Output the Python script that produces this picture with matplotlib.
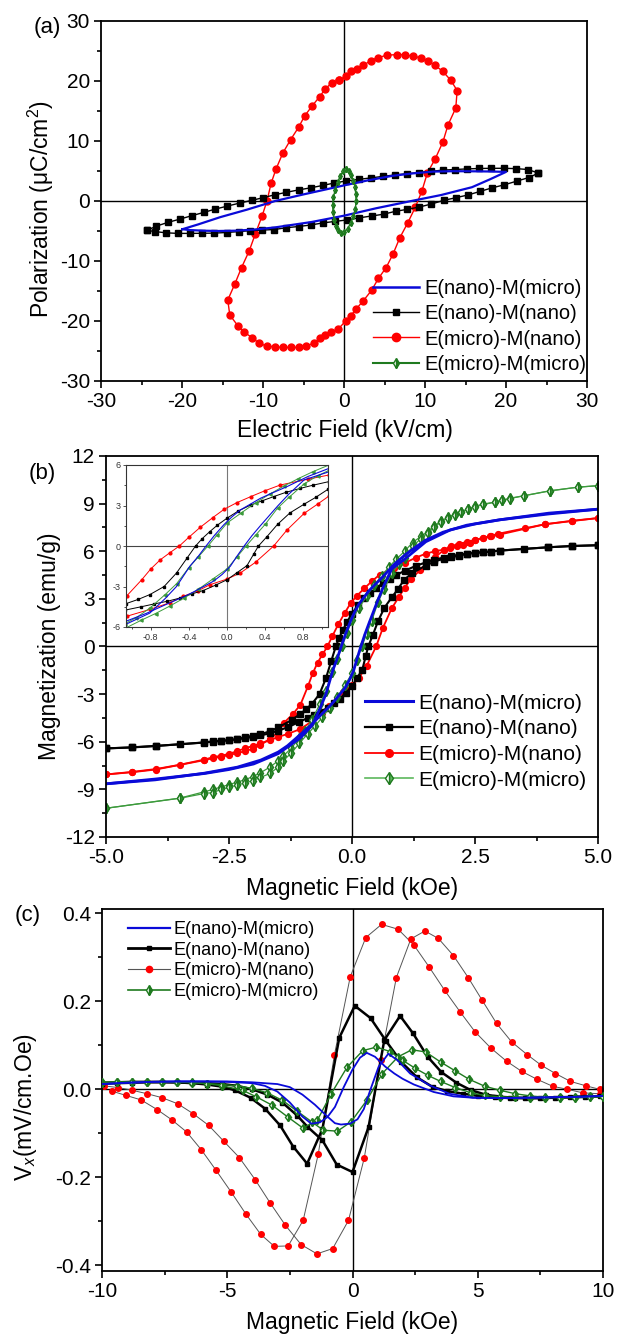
import matplotlib
matplotlib.use("Agg")
import matplotlib.pyplot as plt
from matplotlib.ticker import MultipleLocator
from matplotlib.lines import Line2D

plt.rcParams['font.family'] = ['Liberation Sans', 'DejaVu Sans']
plt.rcParams['mathtext.fontset'] = 'custom'
plt.rcParams['mathtext.rm'] = 'Liberation Sans'
plt.rcParams['mathtext.it'] = 'Liberation Sans:italic'
plt.rcParams['axes.unicode_minus'] = False

LABELS = ["E(nano)-M(micro)", "E(nano)-M(nano)", "E(micro)-M(nano)", "E(micro)-M(micro)"]
BLUE, BLACK, RED, GREEN = '#0a0ad8', 'black', '#ff0000', '#1f7a1f'

# ---------------- (a) P-E loops ----------------
pe_red_x = [-0.66, 0.22, 0.85, 1.58, 2.4, 3.28, 4.2, 5.3, 6.5, 7.5, 8.5, 9.45, 10.4, 11.25, 12.2, 13.2, 13.97,
            13.8, 12.85, 12.2, 11.25, 10.3, 9.6, 8.8, 7.85, 6.9, 6.05, 5.2, 4.25, 3.4, 2.4, 1.5, 0.85, 0.2,
            -0.75, -1.6, -2.3, -2.95, -3.65, -4.65, -5.6, -6.6, -7.55, -8.5, -9.5, -10.5, -11.3, -12.3, -13.1,
            -14.1, -14.35, -13.5, -12.65, -11.7, -10.95, -10.1, -9.5, -9.0, -8.4, -7.55, -6.6, -5.6, -4.85,
            -3.9, -3.0, -2.3, -1.5, -0.66]
pe_red_y = [20.1, 20.8, 21.6, 22.0, 22.6, 23.4, 23.9, 24.3, 24.4, 24.4, 24.1, 23.9, 23.3, 22.6, 21.6, 20.1, 18.4,
            15.5, 12.7, 9.8, 7.0, 4.7, 1.6, -1.05, -3.7, -6.1, -8.85, -11.1, -12.9, -14.9, -16.6, -18.0, -19.1,
            -20.0, -21.4, -21.8, -22.4, -22.9, -23.6, -24.2, -24.4, -24.4, -24.4, -24.3, -24.2, -23.7, -22.8,
            -21.9, -20.8, -19.0, -16.5, -13.9, -11.1, -8.3, -5.5, -2.45, 0.05, 2.95, 5.3, 8.0, 10.2, 12.3,
            14.2, 15.9, 17.4, 18.7, 19.7, 20.1]

pe_blk_up_x = [-24.3, -23.2, -21.7, -20.2, -18.8, -17.3, -15.9, -14.4, -12.9, -11.4, -10.0, -8.5, -7.1, -5.6,
               -4.1, -2.6, -1.2, 0.3, 1.8, 3.3, 4.8, 6.3, 7.8, 9.3, 10.8, 12.2, 13.7, 15.2, 16.7, 18.2, 19.7,
               21.2, 22.7, 24.0]
pe_blk_up_y = [-4.9, -4.2, -3.55, -3.0, -2.45, -1.9, -1.35, -0.85, -0.35, 0.1, 0.55, 1.05, 1.45, 1.85, 2.2,
               2.6, 3.0, 3.35, 3.6, 3.85, 4.1, 4.35, 4.55, 4.75, 4.95, 5.15, 5.25, 5.35, 5.42, 5.45, 5.45,
               5.4, 5.25, 4.65]
pe_blk_dn_x = [24.0, 22.8, 21.3, 19.8, 18.3, 16.8, 15.3, 13.8, 12.3, 10.8, 9.3, 7.8, 6.4, 4.9, 3.4, 1.9, 0.4,
               -1.1, -2.6, -4.1, -5.6, -7.1, -8.6, -10.1, -11.6, -13.0, -14.5, -16.0, -17.5, -19.0, -20.5,
               -22.0, -23.3, -24.3]
pe_blk_dn_y = [4.65, 3.9, 3.3, 2.7, 2.2, 1.6, 1.0, 0.55, 0.1, -0.5, -1.0, -1.4, -1.7, -2.2, -2.5, -2.8, -3.15,
               -3.4, -3.65, -4.0, -4.25, -4.45, -4.75, -4.85, -4.95, -5.1, -5.25, -5.35, -5.38, -5.4, -5.4,
               -5.3, -5.1, -4.9]

pe_blu_up_x = [-19.95, -18, -15.3, -12, -8.5, -5, 0, 3, 6, 8.5, 11, 13.5, 15.8, 18, 20]
pe_blu_up_y = [-4.7, -3.9, -2.7, -1.45, 0.0, 1.1, 2.6, 3.45, 4.2, 4.6, 4.9, 4.97, 4.95, 4.92, 4.85]
pe_blu_dn_x = [20, 18, 15.8, 12, 8.5, 4, 0, -4, -8.5, -11, -13.4, -15.5, -17.3, -19.0, -19.95]
pe_blu_dn_y = [4.85, 3.6, 2.3, 1.0, 0.05, -1.2, -2.45, -3.5, -4.4, -4.75, -4.95, -5.0, -4.95, -4.85, -4.7]

pe_grn_x = [0.2, 0.6, 0.9, 1.15, 1.35, 1.45, 1.5, 1.4, 1.15, 0.85, 0.45, 0.05, -0.35, -0.7, -1.0, -1.2,
            -1.35, -1.4, -1.3, -1.1, -0.8, -0.45, -0.1, 0.2]
pe_grn_y = [5.3, 5.0, 4.3, 3.4, 2.4, 1.2, 0.0, -1.3, -2.5, -3.6, -4.6, -5.2, -5.3, -4.9, -4.1, -3.1, -1.9,
            -0.6, 0.6, 1.9, 3.1, 4.2, 5.0, 5.3]

# ---------------- (b) M-H loops ----------------
mh_blu_up_h = [5.0, 4.0, 3.0, 2.33, 1.85, 1.5, 1.31, 1.07, 0.85, 0.63, 0.45, 0.35, 0.14, 0.05, -0.035, -0.13,
               -0.22, -0.3, -0.39, -0.53, -0.65, -0.81, -1.05, -1.5, -2.0, -2.5, -3.0, -4.0, -5.0]
mh_blu_up_m = [8.65, 8.4, 7.98, 7.64, 7.2, 6.7, 6.3, 5.75, 5.15, 4.4, 3.85, 3.53, 2.67, 2.15, 1.56, 0.8, 0.0,
               -0.75, -1.5, -3.0, -3.9, -4.97, -5.76, -6.75, -7.4, -7.75, -8.0, -8.35, -8.65]
mh_blu_dn_h = [-5.0, -4.0, -3.0, -2.33, -1.85, -1.5, -1.31, -1.07, -0.85, -0.63, -0.45, -0.35, -0.14, -0.05,
               0.035, 0.1, 0.18, 0.26, 0.35, 0.53, 0.65, 0.81, 1.05, 1.5, 2.0, 2.5, 3.0, 4.0, 5.0]
mh_blu_dn_m = [-8.65, -8.4, -7.98, -7.6, -7.15, -6.65, -6.25, -5.6, -5.0, -4.3, -3.75, -3.4, -2.6, -2.1, -1.5,
               -0.8, 0.0, 0.75, 1.5, 2.95, 3.85, 4.9, 5.45, 6.6, 7.35, 7.72, 7.98, 8.35, 8.65]

mh_blk_up_h = [5.0, 4.47, 3.99, 3.5, 3.0, 2.82, 2.66, 2.5, 2.34, 2.18, 2.02, 1.86, 1.67, 1.5, 1.3, 1.07, 0.9,
               0.77, 0.62, 0.49, 0.37, 0.25, 0.12, 0.0, -0.1, -0.18, -0.26, -0.33, -0.42, -0.53, -0.66, -0.81,
               -0.93, -1.06, -1.22, -1.5, -1.67, -1.86, -2.02, -2.18, -2.34, -2.5, -2.66, -2.82, -3.0, -3.99,
               -4.47, -5.0]
mh_blk_up_m = [6.38, 6.33, 6.25, 6.15, 6.04, 5.98, 5.94, 5.9, 5.85, 5.78, 5.7, 5.6, 5.47, 5.3, 5.08, 4.77, 4.5,
               4.27, 3.98, 3.66, 3.35, 3.04, 2.6, 2.06, 1.55, 1.07, 0.55, 0.0, -0.9, -2.0, -3.0, -3.6, -3.95,
               -4.27, -4.62, -5.1, -5.35, -5.52, -5.62, -5.73, -5.83, -5.9, -5.94, -5.98, -6.04, -6.27, -6.36,
               -6.42]
mh_blk_dn_h = [-5.0, -4.47, -3.99, -3.5, -3.0, -2.82, -2.66, -2.5, -2.34, -2.18, -2.02, -1.86, -1.67, -1.5,
               -1.3, -1.07, -0.9, -0.77, -0.63, -0.49, -0.37, -0.25, -0.12, 0.0, 0.1, 0.21, 0.28, 0.33, 0.42,
               0.53, 0.66, 0.81, 0.93, 1.06, 1.22, 1.5, 1.67, 1.86, 2.02, 2.18, 2.34, 2.5, 2.66, 2.82, 3.0,
               3.99, 4.47, 5.0]
mh_blk_dn_m = [-6.42, -6.35, -6.26, -6.16, -6.05, -5.99, -5.95, -5.9, -5.85, -5.78, -5.7, -5.6, -5.47, -5.3,
               -5.08, -4.75, -4.5, -4.3, -4.1, -3.85, -3.55, -3.3, -2.9, -2.5, -2.0, -1.45, -0.6, 0.0, 0.7,
               1.6, 2.45, 3.1, 3.6, 4.2, 4.62, 5.1, 5.35, 5.52, 5.62, 5.73, 5.83, 5.9, 5.94, 5.98, 6.04, 6.25,
               6.33, 6.38]

mh_red_up_h = [5.0, 4.47, 3.92, 3.52, 2.97, 2.8, 2.67, 2.51, 2.4, 2.26, 2.13, 1.99, 1.86, 1.69, 1.5, 1.3, 1.07,
               0.85, 0.56, 0.4, 0.25, 0.1, -0.03, -0.15, -0.28, -0.4, -0.5, -0.6, -0.7, -0.8, -0.895, -1.05,
               -1.2, -1.38, -1.5, -1.67, -1.86, -2.02, -2.18, -2.34, -2.5, -2.66, -2.82, -3.0, -3.99, -4.47, -5.0]
mh_red_up_m = [8.09, 7.9, 7.7, 7.45, 7.1, 6.95, 6.85, 6.7, 6.55, 6.42, 6.3, 6.2, 6.1, 6.0, 5.85, 5.6, 5.26,
               4.95, 4.52, 4.1, 3.66, 3.2, 2.72, 2.1, 1.39, 0.65, 0.0, -0.5, -1.02, -1.7, -2.5, -3.68, -4.25,
               -4.8, -5.41, -5.83, -6.2, -6.45, -6.6, -6.72, -6.84, -6.95, -7.03, -7.16, -7.75, -7.92, -8.06]
mh_red_dn_h = [-5.0, -4.47, -3.99, -3.5, -3.0, -2.82, -2.66, -2.5, -2.34, -2.18, -2.02, -1.86, -1.67, -1.5,
               -1.3, -1.05, -0.81, -0.6, -0.46, -0.3, -0.18, 0.0, 0.14, 0.3, 0.49, 0.63, 0.81, 0.95, 1.07, 1.2,
               1.38, 1.5, 1.69, 1.86, 2.02, 2.18, 2.34, 2.5, 2.66, 2.82, 3.0, 3.92, 4.47, 5.0]
mh_red_dn_m = [-8.06, -7.9, -7.72, -7.45, -7.12, -6.97, -6.88, -6.76, -6.6, -6.42, -6.27, -6.1, -5.9, -5.7,
               -5.5, -5.2, -4.7, -4.2, -3.73, -3.3, -2.87, -2.45, -2.0, -1.2, 0.0, 1.19, 2.42, 3.1, 3.7, 4.25,
               4.8, 5.2, 5.64, 6.05, 6.3, 6.45, 6.6, 6.72, 6.84, 6.95, 7.05, 7.7, 7.92, 8.09]

mh_grn_up_h = [5.0, 4.6, 4.02, 3.5, 3.21, 3.04, 2.9, 2.67, 2.49, 2.36, 2.22, 2.09, 1.95, 1.81, 1.67, 1.54, 1.4,
               1.23, 1.07, 0.9, 0.75, 0.6, 0.45, 0.3, 0.15, 0.0, -0.1, -0.2, -0.3, -0.4, -0.53, -0.65, -0.81,
               -0.95, -1.07, -1.23, -1.4, -1.5, -1.67, -1.86, -2.02, -2.18, -2.34, -2.5, -2.66, -2.82, -3.0,
               -3.5, -5.0]
mh_grn_up_m = [10.13, 10.04, 9.81, 9.5, 9.34, 9.2, 9.1, 8.97, 8.82, 8.65, 8.5, 8.34, 8.13, 7.92, 7.6, 7.24,
               6.93, 6.55, 6.0, 5.5, 5.0, 4.45, 3.85, 3.2, 2.45, 1.7, 0.85, 0.0, -0.8, -1.6, -2.8, -3.6, -4.6,
               -5.3, -5.75, -6.4, -6.9, -7.2, -7.6, -7.95, -8.2, -8.4, -8.55, -8.7, -8.85, -9.0, -9.15, -9.55,
               -10.19]
mh_grn_dn_h = [-5.0, -3.5, -3.0, -2.82, -2.66, -2.5, -2.34, -2.18, -2.02, -1.86, -1.67, -1.5, -1.4, -1.23,
               -1.07, -0.9, -0.75, -0.6, -0.45, -0.3, -0.15, 0.0, 0.1, 0.2, 0.3, 0.4, 0.53, 0.65, 0.81, 0.95,
               1.07, 1.23, 1.4, 1.54, 1.67, 1.81, 1.95, 2.09, 2.22, 2.36, 2.49, 2.67, 2.9, 3.04, 3.21, 3.5,
               4.02, 4.6, 5.0]
mh_grn_dn_m = [-10.19, -9.56, -9.26, -9.2, -9.0, -8.88, -8.74, -8.6, -8.46, -8.25, -8.0, -7.6, -7.2, -6.7,
               -6.1, -5.5, -5.0, -4.45, -3.85, -3.2, -2.45, -1.7, -0.85, 0.0, 0.8, 1.6, 2.8, 3.6, 4.6, 5.2,
               5.6, 6.3, 6.8, 7.15, 7.5, 7.85, 8.1, 8.3, 8.48, 8.63, 8.8, 8.95, 9.08, 9.2, 9.32, 9.5, 9.8,
               10.04, 10.13]

# ---------------- (c) ME coefficient ----------------
me_blu1_h = [-10, -9, -8, -7, -6, -5, -4, -3.5, -3.0, -2.5, -2.0, -1.64, -1.3, -1.0, -0.7, -0.35, 0.0, 0.3,
             0.57, 0.9, 1.3, 1.67, 2.0, 2.45, 3.24, 4.03, 4.8, 6, 7, 8, 9, 10]
me_blu1_v = [0.012, 0.015, 0.017, 0.018, 0.018, 0.017, 0.014, 0.008, -0.005, -0.03, -0.062, -0.078, -0.075,
             -0.063, -0.04, 0.005, 0.045, 0.072, 0.083, 0.074, 0.052, 0.036, 0.024, 0.011, -0.006, -0.016,
             -0.019, -0.02, -0.019, -0.018, -0.017, -0.015]
me_blu2_h = [-10, -9, -8, -7, -6, -5, -4, -3.0, -2.5, -2.0, -1.5, -1.0, -0.7, -0.46, -0.1, 0.2, 0.45, 0.72,
             1.04, 1.43, 1.8, 2.3, 3.08, 3.87, 4.8, 6, 7, 8, 9, 10]
me_blu2_v = [0.012, 0.015, 0.017, 0.018, 0.018, 0.018, 0.016, 0.012, 0.005, -0.012, -0.035, -0.062, -0.077,
             -0.08, -0.078, -0.068, -0.045, 0.0, 0.051, 0.081, 0.066, 0.036, 0.009, -0.01, -0.019, -0.02,
             -0.019, -0.018, -0.017, -0.015]

me_blk1_h = [-10, -9.4, -8.8, -8.2, -7.6, -7.0, -6.4, -5.8, -5.2, -4.7, -4.07, -3.49, -2.89, -2.37, -1.81,
             -1.2, -0.53, 0.09, 0.72, 1.35, 1.95, 2.58, 3.21, 3.79, 4.42, 5.02, 5.68, 6.3, 6.9, 7.5, 8.1, 8.7,
             9.3, 9.9]
me_blk1_v = [0.015, 0.016, 0.017, 0.017, 0.017, 0.016, 0.014, 0.011, 0.006, -0.002, -0.019, -0.044, -0.082,
             -0.13, -0.169, -0.09, 0.117, 0.19, 0.162, 0.109, 0.062, 0.027, 0.005, -0.004, -0.01, -0.015,
             -0.018, -0.02, -0.02, -0.02, -0.019, -0.018, -0.017, -0.016]
me_blk2_h = [-10, -9.4, -8.8, -8.2, -7.6, -7.0, -6.4, -5.8, -5.2, -4.6, -4.0, -3.4, -2.8, -2.2, -1.8, -1.2,
             -0.63, 0.0, 0.64, 1.27, 1.9, 2.42, 3.0, 3.55, 4.15, 4.73, 5.31, 5.9, 6.5, 7.1, 7.7, 8.3, 8.9, 9.5,
             10.0]
me_blk2_v = [0.013, 0.014, 0.015, 0.016, 0.016, 0.016, 0.015, 0.014, 0.012, 0.008, 0.0, -0.012, -0.03, -0.06,
             -0.085, -0.116, -0.171, -0.188, -0.086, 0.112, 0.167, 0.127, 0.074, 0.039, 0.015, -0.002,
             -0.012, -0.017, -0.019, -0.02, -0.019, -0.018, -0.017, -0.016, -0.015]

me_red1_h = [-9.61, -9.03, -8.44, -7.8, -7.22, -6.62, -6.04, -5.46, -4.85, -4.25, -3.66, -3.12, -2.57, -1.97,
             -1.37, -0.72, -0.09, 0.53, 1.16, 1.82, 2.45, 3.05, 3.68, 4.31, 4.89, 5.52, 6.15, 6.75, 7.36, 7.99,
             8.58, 9.2, 9.87]
me_red1_v = [-0.004, -0.014, -0.024, -0.046, -0.069, -0.097, -0.137, -0.183, -0.233, -0.284, -0.33, -0.357,
             -0.356, -0.298, -0.148, 0.079, 0.256, 0.345, 0.375, 0.364, 0.328, 0.279, 0.225, 0.175, 0.131,
             0.094, 0.064, 0.041, 0.023, 0.007, 0.0, -0.008, -0.01]
me_red2_h = [-9.94, -9.35, -8.8, -8.2, -7.6, -6.97, -6.37, -5.74, -5.14, -4.52, -3.89, -3.29, -2.68, -2.05,
             -1.42, -0.79, -0.16, 0.47, 1.12, 1.75, 2.33, 2.89, 3.43, 4.03, 4.62, 5.16, 5.75, 6.35, 6.97, 7.53,
             8.1, 8.7, 9.32, 9.87]
me_red2_v = [0.008, 0.004, -0.002, -0.01, -0.019, -0.033, -0.055, -0.082, -0.118, -0.155, -0.205, -0.258,
             -0.309, -0.353, -0.374, -0.362, -0.298, -0.156, 0.066, 0.254, 0.342, 0.36, 0.343, 0.304, 0.254,
             0.204, 0.15, 0.108, 0.079, 0.055, 0.036, 0.018, 0.008, 0.0]

me_grn1_h = [-10, -9.4, -8.8, -8.2, -7.6, -7.0, -6.4, -5.8, -5.2, -4.39, -3.84, -3.21, -2.58, -1.98, -1.4,
             -0.85, -0.22, 0.41, 0.95, 1.5, 2.0, 2.5, 3.0, 3.52, 4.1, 4.73, 5.28, 5.9, 6.5, 7.1, 7.7, 8.3, 8.9,
             9.5, 10.0]
me_grn1_v = [0.015, 0.016, 0.016, 0.017, 0.017, 0.017, 0.016, 0.013, 0.008, -0.002, -0.017, -0.036, -0.063,
             -0.088, -0.07, -0.01, 0.05, 0.088, 0.096, 0.086, 0.066, 0.048, 0.032, 0.018, 0.004, -0.008,
             -0.014, -0.017, -0.018, -0.019, -0.019, -0.018, -0.017, -0.016, -0.015]
me_grn2_h = [-10, -9.4, -8.8, -8.2, -7.6, -7.0, -6.4, -5.8, -5.2, -4.6, -4.0, -3.4, -2.8, -2.2, -1.6, -1.16,
             -0.6, -0.06, 0.57, 1.19, 1.82, 2.37, 2.92, 3.52, 4.1, 4.65, 5.28, 5.88, 6.5, 7.1, 7.7, 8.3, 8.9,
             9.5, 10.0]
me_grn2_v = [0.016, 0.017, 0.017, 0.017, 0.017, 0.016, 0.015, 0.013, 0.011, 0.008, 0.002, -0.008, -0.025,
             -0.05, -0.075, -0.093, -0.095, -0.074, -0.025, 0.036, 0.074, 0.09, 0.085, 0.062, 0.042, 0.023,
             0.007, -0.002, -0.01, -0.015, -0.018, -0.019, -0.019, -0.018, -0.017]

# ---------------- figure ----------------
W, H = 619, 1337
fig = plt.figure(figsize=(W / 100, H / 100), dpi=100)


def box(l, t, r, b):
    return [l / W, 1 - b / H, (r - l) / W, (b - t) / H]


def style(ax, fs=15):
    ax.tick_params(which='both', direction='out', top=False, right=False, labelsize=fs, width=1.2)
    ax.tick_params(which='major', length=5, pad=3)
    ax.tick_params(which='minor', length=3)
    for s in ax.spines.values():
        s.set_linewidth(1.3)
    ax.axhline(0, color='k', lw=1.0, zorder=1)
    ax.axvline(0, color='k', lw=1.0, zorder=1)


def ftext(x, y, s, **kw):
    fig.text(x / W, 1 - y / H, s, ha='center', va='center', **kw)


green_kw = dict(marker='d', fillstyle='right', markerfacecoloralt='white', markeredgecolor=GREEN)

# (a)
ax_a = fig.add_axes(box(101, 21, 587, 381))
style(ax_a)
ax_a.plot(pe_red_x, pe_red_y, '-o', color=RED, ms=5, lw=1.0, zorder=3)
ax_a.plot(pe_blk_up_x + pe_blk_dn_x, pe_blk_up_y + pe_blk_dn_y, '-s', color=BLACK, ms=3.8, lw=1.0, zorder=4)
ax_a.plot(pe_blu_up_x + pe_blu_dn_x, pe_blu_up_y + pe_blu_dn_y, '-', color=BLUE, lw=1.6, zorder=5)
ax_a.plot(pe_grn_x, pe_grn_y, '-', color=GREEN, lw=1.0, ms=3, zorder=6, **green_kw)
ax_a.set_xlim(-30, 30)
ax_a.set_ylim(-30, 30)
ax_a.xaxis.set_major_locator(MultipleLocator(10))
ax_a.xaxis.set_minor_locator(MultipleLocator(5))
ax_a.yaxis.set_major_locator(MultipleLocator(10))
ax_a.yaxis.set_minor_locator(MultipleLocator(5))

h_a = [Line2D([], [], color=BLUE, lw=1.8),
       Line2D([], [], color=BLACK, lw=1.0, marker='s', ms=5),
       Line2D([], [], color=RED, lw=1.0, marker='o', ms=6),
       Line2D([], [], color=GREEN, lw=1.5, ms=5, **green_kw)]
ax_a.legend(h_a, LABELS, loc='center left', bbox_to_anchor=(373 / W, 1 - 326.5 / H),
            bbox_transform=fig.transFigure, frameon=False, fontsize=14.5, handlelength=2.3,
            handletextpad=0.25, labelspacing=0.3, borderpad=0, borderaxespad=0)

ftext(47, 28, '(a)', fontsize=16)
ftext(41, 209, 'Polarization (μC/cm$^{2}$)', fontsize=16.5, rotation=90)
ftext(345, 430, 'Electric Field (kV/cm)', fontsize=16.5)

# (b)
ax_b = fig.add_axes(box(106, 456, 598, 837))
style(ax_b)
mh_sets = [
    (mh_red_up_h, mh_red_up_m, mh_red_dn_h, mh_red_dn_m, dict(color=RED, marker='o', ms=4.2, lw=1.3)),
    (mh_blk_up_h, mh_blk_up_m, mh_blk_dn_h, mh_blk_dn_m, dict(color=BLACK, marker='s', ms=3.8, lw=1.5)),
    (mh_grn_up_h, mh_grn_up_m, mh_grn_dn_h, mh_grn_dn_m, dict(color='#3c9a3c', ms=5.5, lw=0.9, **green_kw)),
    (mh_blu_up_h, mh_blu_up_m, mh_blu_dn_h, mh_blu_dn_m, dict(color=BLUE, lw=2.0)),
]
for hu, mu, hd, md, kw in mh_sets:
    ax_b.plot(hu, mu, **kw)
    ax_b.plot(hd, md, **kw)
ax_b.set_xlim(-5, 5)
ax_b.set_ylim(-12, 12)
ax_b.xaxis.set_major_locator(MultipleLocator(2.5))
ax_b.xaxis.set_minor_locator(MultipleLocator(1.25))
ax_b.yaxis.set_major_locator(MultipleLocator(3))
ax_b.yaxis.set_minor_locator(MultipleLocator(1.5))

h_b = [Line2D([], [], color=BLUE, lw=2.2),
       Line2D([], [], color=BLACK, lw=1.6, marker='s', ms=5),
       Line2D([], [], color=RED, lw=1.3, marker='o', ms=5.5),
       Line2D([], [], color='#5cb85c', lw=1.2, ms=6, **green_kw)]
ax_b.legend(h_b, LABELS, loc='center left', bbox_to_anchor=(365 / W, 1 - 741.7 / H),
            bbox_transform=fig.transFigure, frameon=False, fontsize=15, handlelength=2.3,
            handletextpad=0.25, labelspacing=0.32, borderpad=0, borderaxespad=0)

ftext(42, 474, '(b)', fontsize=16)
ftext(50, 646, 'Magnetization (emu/g)', fontsize=16.5, rotation=90)
ftext(352, 888, 'Magnetic Field (kOe)', fontsize=16.5)

# inset of (b)
ax_in = fig.add_axes(box(126, 465, 328, 627))
ax_in.set_facecolor('white')
for s in ax_in.spines.values():
    s.set_linewidth(0.8)
    s.set_color('#333333')
ax_in.tick_params(which='both', direction='out', top=False, right=False, labelsize=6.5,
                  width=0.6, colors='#333333', pad=1.5)
ax_in.tick_params(which='major', length=2.5)
ax_in.tick_params(which='minor', length=1.5)
ax_in.axhline(0, color='#444444', lw=0.8, zorder=1)
ax_in.axvline(0, color='#777777', lw=0.8, zorder=1)
in_sets = [
    (mh_red_up_h, mh_red_up_m, mh_red_dn_h, mh_red_dn_m, dict(color=RED, marker='o', ms=2.0, lw=0.7)),
    (mh_blk_up_h, mh_blk_up_m, mh_blk_dn_h, mh_blk_dn_m, dict(color=BLACK, marker='s', ms=1.8, lw=0.7)),
    (mh_grn_up_h, mh_grn_up_m, mh_grn_dn_h, mh_grn_dn_m, dict(color='#3c9a3c', marker='<', ms=2.2, lw=0.7)),
    (mh_blu_up_h, mh_blu_up_m, mh_blu_dn_h, mh_blu_dn_m, dict(color=BLUE, lw=0.8)),
]
for hu, mu, hd, md, kw in in_sets:
    ax_in.plot(hu, mu, **kw)
    ax_in.plot(hd, md, **kw)
ax_in.set_xlim(-1.06, 1.06)
ax_in.set_ylim(-6, 6)
ax_in.xaxis.set_major_locator(MultipleLocator(0.4))
ax_in.xaxis.set_minor_locator(MultipleLocator(0.2))
ax_in.yaxis.set_major_locator(MultipleLocator(3))
ax_in.yaxis.set_minor_locator(MultipleLocator(1.5))

# (c)
ax_c = fig.add_axes(box(102, 909, 603, 1271))
style(ax_c)
ax_c.plot(me_red1_h, me_red1_v, '-o', color='#555555', mfc=RED, mec=RED, ms=4, lw=0.7, zorder=2)
ax_c.plot(me_red2_h, me_red2_v, '-o', color='#555555', mfc=RED, mec=RED, ms=4, lw=0.7, zorder=2)
ax_c.plot(me_blk1_h, me_blk1_v, '-s', color=BLACK, ms=3, lw=1.8, zorder=3)
ax_c.plot(me_blk2_h, me_blk2_v, '-s', color=BLACK, ms=3, lw=1.8, zorder=3)
ax_c.plot(me_grn1_h, me_grn1_v, '-', color=GREEN, ms=4.5, lw=1.0, zorder=4, **green_kw)
ax_c.plot(me_grn2_h, me_grn2_v, '-', color=GREEN, ms=4.5, lw=1.0, zorder=4, **green_kw)
ax_c.plot(me_blu1_h, me_blu1_v, '-', color=BLUE, lw=1.3, zorder=5)
ax_c.plot(me_blu2_h, me_blu2_v, '-', color=BLUE, lw=1.3, zorder=5)
ax_c.set_xlim(-10, 10)
ax_c.set_ylim(-0.413, 0.41)
ax_c.xaxis.set_major_locator(MultipleLocator(5))
ax_c.xaxis.set_minor_locator(MultipleLocator(2.5))
ax_c.yaxis.set_major_locator(MultipleLocator(0.2))
ax_c.yaxis.set_minor_locator(MultipleLocator(0.1))

h_c = [Line2D([], [], color=BLUE, lw=1.6),
       Line2D([], [], color=BLACK, lw=2.0, marker='s', ms=3.5),
       Line2D([], [], color='#555555', lw=0.8, marker='o', ms=4.5, mfc=RED, mec=RED),
       Line2D([], [], color=GREEN, lw=1.2, ms=5, **green_kw)]
ax_c.legend(h_c, LABELS, loc='center left', bbox_to_anchor=(128 / W, 1 - 960.5 / H),
            bbox_transform=fig.transFigure, frameon=False, fontsize=13, handlelength=2.3,
            handletextpad=0.2, labelspacing=0.2, borderpad=0, borderaxespad=0)

ftext(28, 915, '(c)', fontsize=16)
ftext(26, 1107, 'V$_{x}$(mV/cm.Oe)', fontsize=16.5, rotation=90)
ftext(352, 1323, 'Magnetic Field (kOe)', fontsize=16.5)

fig.savefig('out.png', dpi=100)
